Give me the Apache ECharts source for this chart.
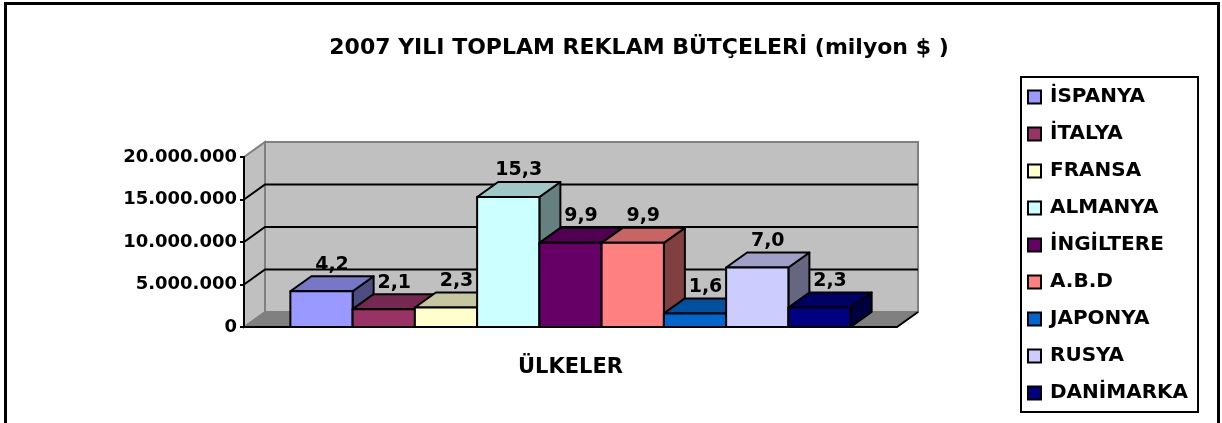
<!DOCTYPE html>
<html>
<head>
<meta charset="utf-8">
<script src="https://cdn.jsdelivr.net/npm/echarts@6/dist/echarts.min.js"></script>
<style>
  html, body { margin: 0; padding: 0; background: #fff; }
  #chart { width: 1222px; height: 423px; }
</style>
</head>
<body>
<div id="chart"></div>
<script>
// veriler (dolar)
var countries = ['İSPANYA', 'İTALYA', 'FRANSA', 'ALMANYA', 'İNGİLTERE', 'A.B.D', 'JAPONYA', 'RUSYA', 'DANİMARKA'];
var budgets = [4200000, 2100000, 2300000, 15300000, 9900000, 9900000, 1600000, 7000000, 2300000];
var categoryName = ['ÜLKELER'];
var yTicks = [0, 5000000, 10000000, 15000000, 20000000];

var colors = ['#9999FF', '#993366', '#FFFFCC', '#CCFFFF', '#660066', '#FF8080', '#0066CC', '#CCCCFF', '#000080'];
var FONT = 'DejaVu Sans';
var DX = 21, DY = -15;        // 3B derinlik
var BAR_FRAC = 0.858;         // cubuklarin kategori icindeki payi

function shade(hex, f) {
    var n = parseInt(hex.slice(1), 16);
    var r = Math.round(((n >> 16) & 255) * f);
    var g = Math.round(((n >> 8) & 255) * f);
    var b = Math.round((n & 255) * f);
    return 'rgb(' + r + ',' + g + ',' + b + ')';
}

function thousands(v) {
    return String(v).replace(/\B(?=(\d{3})+(?!\d))/g, '.');
}

// duvarlar + zemin
function renderWalls(params, api) {
    var cs = params.coordSys;
    var xl = cs.x, xr = cs.x + cs.width;
    var y0 = api.coord([0, yTicks[0]])[1];
    var yTop = api.coord([0, yTicks[yTicks.length - 1]])[1];
    var children = [
        { type: 'polygon', shape: { points: [[xl, y0], [xl + DX, y0 + DY], [xr + DX, y0 + DY], [xr, y0]] },
          style: { fill: '#808080', stroke: '#707070', lineWidth: 1 } },
        { type: 'polygon', shape: { points: [[xl, y0], [xl, yTop], [xl + DX, yTop + DY], [xl + DX, y0 + DY]] },
          style: { fill: '#C0C0C0', stroke: '#808080', lineWidth: 2 } },
        { type: 'rect', shape: { x: xl + DX, y: yTop + DY, width: cs.width, height: y0 - yTop },
          style: { fill: '#C0C0C0', stroke: '#808080', lineWidth: 2 } },
        { type: 'line', shape: { x1: xr, y1: y0, x2: xr + DX, y2: y0 + DY },
          style: { stroke: '#000', lineWidth: 2 } }
    ];
    for (var i = 1; i < yTicks.length - 1; i++) {
        var y = api.coord([0, yTicks[i]])[1];
        children.push({ type: 'polyline', shape: { points: [[xl, y], [xl + DX, y + DY], [xr + DX, y + DY]] },
            style: { stroke: '#000', lineWidth: 2, fill: null } });
    }
    return { type: 'group', children: children };
}

function makeBarRenderer(idx) {
    return function (params, api) {
        var band = api.size([1, 0])[0];
        var base = api.coord([0, 0]);
        var inner = band * BAR_FRAC;
        var bw = inner / countries.length;
        var x0 = base[0] - inner / 2 + idx * bw;
        var x1 = x0 + bw;
        var yb = base[1];
        var yt = api.coord([0, api.value(1)])[1];
        var c = colors[idx];
        var ln = { stroke: '#000', lineWidth: 2, lineJoin: 'round' };
        return {
            type: 'group',
            children: [
                { type: 'polygon', shape: { points: [[x1, yt], [x1 + DX, yt + DY], [x1 + DX, yb + DY], [x1, yb]] },
                  style: Object.assign({ fill: shade(c, 0.5) }, ln) },
                { type: 'polygon', shape: { points: [[x0, yt], [x0 + DX, yt + DY], [x1 + DX, yt + DY], [x1, yt]] },
                  style: Object.assign({ fill: shade(c, 0.78) }, ln) },
                { type: 'rect', shape: { x: x0, y: yt, width: bw, height: yb - yt },
                  style: Object.assign({ fill: c }, ln) },
                { type: 'text', x: (x0 + x1) / 2 + DX / 2, y: yt + DY - 2,
                  style: { text: (api.value(1) / 1e6).toFixed(1).replace('.', ','),
                           fill: '#000', font: 'bold 19px "' + FONT + '"',
                           align: 'center', verticalAlign: 'bottom' } }
            ]
        };
    };
}

var chart = echarts.init(document.getElementById('chart'));

var series = [{
    name: 'walls',
    type: 'custom',
    silent: true,
    z: 1,
    renderItem: renderWalls,
    data: [[0, 0]]
}];
for (var i = 0; i < countries.length; i++) {
    series.push({
        name: countries[i],
        type: 'custom',
        z: 2,
        itemStyle: { color: colors[i] },
        renderItem: makeBarRenderer(i),
        data: [[0, budgets[i]]]
    });
}

var option = {
    animation: false,
    textStyle: { fontFamily: FONT },
    title: {
        text: '2007 YILI TOPLAM REKLAM BÜTÇELERİ (milyon $ )',
        left: 634,
        textAlign: 'center',
        top: 32,
        textStyle: { fontFamily: FONT, fontWeight: 'bold', fontSize: 22, color: '#000' }
    },
    graphic: [{
        type: 'rect',
        shape: { x: 5.5, y: 3.5, width: 1213, height: 440 },
        style: { fill: null, stroke: '#000', lineWidth: 3 },
        silent: true
    }],
    legend: {
        data: countries,
        orient: 'vertical',
        left: 1021,
        top: 77,
        padding: [10, 10, 9, 6],
        itemGap: 17,
        itemWidth: 13,
        itemHeight: 13,
        icon: 'rect',
        borderColor: '#000',
        borderWidth: 2,
        itemStyle: { borderColor: '#000', borderWidth: 2 },
        textStyle: { fontFamily: FONT, fontWeight: 'bold', fontSize: 20, lineHeight: 20, color: '#000', padding: [0, 0, 0, 4] }
    },
    grid: { left: 244, right: 325, top: 157, bottom: 96 },
    xAxis: {
        type: 'category',
        data: categoryName,
        z: 10,
        axisLine: { show: true, lineStyle: { color: '#000', width: 2 } },
        axisTick: { show: false },
        axisLabel: { margin: 30, fontFamily: FONT, fontWeight: 'bold', fontSize: 21, color: '#000' },
        splitLine: { show: false }
    },
    yAxis: {
        type: 'value',
        min: yTicks[0],
        max: yTicks[yTicks.length - 1],
        interval: yTicks[1] - yTicks[0],
        z: 10,
        axisLine: { show: true, lineStyle: { color: '#000', width: 2 } },
        axisTick: { show: true, length: 4, lineStyle: { color: '#000', width: 2 } },
        axisLabel: { margin: 7, fontFamily: FONT, fontWeight: 'bold', fontSize: 18, color: '#000',
                     formatter: thousands },
        splitLine: { show: false }
    },
    series: series
};

chart.setOption(option);
</script>
</body>
</html>
